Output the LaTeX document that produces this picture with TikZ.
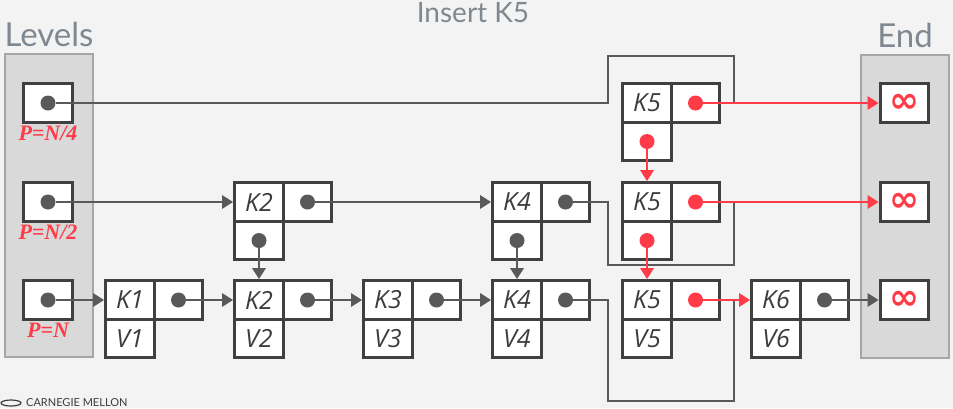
\documentclass[tikz,border=0pt]{standalone}
\usepackage{fontspec}
\usetikzlibrary{arrows.meta, positioning}
\newfontfamily\keyfont{Open Sans}
\newfontfamily\headfont{Lato}
\newfontfamily\pfont{Liberation Serif}
\newfontfamily\symfont{DejaVu Sans}
\definecolor{insred}{RGB}{255,59,72}
\definecolor{linegray}{RGB}{89,89,89}
\definecolor{boxgray}{RGB}{64,64,64}
\definecolor{textgray}{RGB}{60,60,60}
\definecolor{colfill}{RGB}{217,217,217}
\definecolor{colborder}{RGB}{166,166,166}
\definecolor{headgray}{RGB}{127,136,145}
\definecolor{bggray}{RGB}{243,243,243}

\begin{document}
\begin{tikzpicture}[x=1pt, y=-1pt,
    cell/.style={draw=boxgray, line width=3.2pt, fill=white, minimum width=48.5pt,
                 minimum height=38.5pt, inner sep=0pt, text=textgray,
                 font=\keyfont\itshape\fontsize{25}{25}\selectfont},
    endcell/.style={cell, text=insred, font=\symfont\bfseries\fontsize{36}{36}\selectfont},
    dot/.style={circle, fill=linegray, inner sep=0pt, minimum size=15pt},
    reddot/.style={dot, fill=insred},
    link/.style={draw=linegray, line width=2.8pt, -{Triangle[length=11pt,width=13pt]}},
    newlink/.style={link, draw=insred},
    oldlink/.style={draw=linegray, line width=2.8pt},
    column/.style={draw=colborder, fill=colfill, line width=2pt, inner sep=0pt},
    plabel/.style={text=insred, font=\pfont\bfseries\itshape\fontsize{22}{22}\selectfont},
    headline/.style={text=headgray, inner sep=0pt, font=\headfont\fontsize{33}{33}\selectfont}]

  \useasboundingbox (0,0) rectangle (953,408);
  \clip (0,0) rectangle (953,408);
  \fill[bggray] (0,0) rectangle (953,408);

  % Title
  \node (title) [headline, anchor=base, font=\headfont\fontsize{28}{28}\selectfont] at (473,22.7) {Insert K5};

  % Levels and End columns
  \node (levels) [column, minimum width=88pt, minimum height=303pt] at (49,205.5) {};
  \node (ends) [column, minimum width=88pt, minimum height=303pt] at (905,206) {};
  \node (levtxt) [headline, above=6pt of levels] {Levels};
  \node (endtxt) [headline, above=6pt of ends] {End};

  % Level heads
  \node (lv1) [cell] at (48,103) {};
  \node (lv2) [cell] at (48,202) {};
  \node (lv3) [cell] at (48,300) {};
  \node (ld1) [dot] at (lv1) {};
  \node (ld2) [dot] at (lv2) {};
  \node (ld3) [dot] at (lv3) {};
  \node (lp1) [plabel] at (48,133.5) {P=N/4};
  \node (lp2) [plabel] at (48,232.5) {P=N/2};
  \node (lp3) [plabel] at (48,330.5) {P=N};

  % End markers
  \node (inf1) [endcell] at (904.5,103) {∞};
  \node (inf2) [endcell] at (904.5,202) {∞};
  \node (inf3) [endcell] at (904.5,300) {∞};

  % Bottom level: keys and values
  \node (k1) [cell] at (130,300) {K1};
  \node (p1) [cell] at (178.5,300) {};
  \node (v1) [cell] at (130,338.5) {V1};
  \node (k2) [cell] at (259,300) {K2};
  \node (p2) [cell] at (307.5,300) {};
  \node (v2) [cell] at (259,338.5) {V2};
  \node (k3) [cell] at (388,300) {K3};
  \node (p3) [cell] at (436.5,300) {};
  \node (v3) [cell] at (388,338.5) {V3};
  \node (k4) [cell] at (517,300) {K4};
  \node (p4) [cell] at (565.5,300) {};
  \node (v4) [cell] at (517,338.5) {V4};
  \node (k5) [cell] at (647,300) {K5};
  \node (p5) [cell] at (695.5,300) {};
  \node (v5) [cell] at (647,338.5) {V5};
  \node (k6) [cell] at (776,300) {K6};
  \node (p6) [cell] at (824.5,300) {};
  \node (v6) [cell] at (776,338.5) {V6};
  \node (d1) [dot] at (p1) {};
  \node (d2) [dot] at (p2) {};
  \node (d3) [dot] at (p3) {};
  \node (d4) [dot] at (p4) {};
  \node (d5) [reddot] at (p5) {};
  \node (d6) [dot] at (p6) {};

  % Middle level
  \node (mk2) [cell] at (259,202) {K2};
  \node (mp2) [cell] at (307.5,202) {};
  \node (mv2) [cell] at (259,240.5) {};
  \node (mk4) [cell] at (517,202) {K4};
  \node (mp4) [cell] at (565.5,202) {};
  \node (mv4) [cell] at (517,240.5) {};
  \node (mk5) [cell] at (647,202) {K5};
  \node (mp5) [cell] at (695.5,202) {};
  \node (mv5) [cell] at (647,240.5) {};
  \node (md2) [dot] at (mp2) {};
  \node (mdd2) [dot] at (mv2) {};
  \node (md4) [dot] at (mp4) {};
  \node (mdd4) [dot] at (mv4) {};
  \node (md5) [reddot] at (mp5) {};
  \node (mdd5) [reddot] at (mv5) {};

  % Top level
  \node (tk5) [cell] at (647,103) {K5};
  \node (tp5) [cell] at (695.5,103) {};
  \node (tv5) [cell] at (647,141.5) {};
  \node (td5) [reddot] at (tp5) {};
  \node (tdd5) [reddot] at (tv5) {};

  % Old pointers, now running round K5
  \coordinate (g1) at (734,103);
  \coordinate (g2) at (734,202);
  \coordinate (g3) at (734,300);
  \draw[oldlink] (ld1) -- (608,103) |- (734,56) -- (g1);
  \draw[oldlink] (md4) -- (608,202) |- (734,265) -- (g2);
  \draw[oldlink] (d4) -- (608,300) |- (734,401) -- (g3);

  % Links
  \draw[link] (ld2) -- (mk2);
  \draw[link] (md2) -- (mk4);
  \draw[link] (mdd2) -- (k2);
  \draw[link] (mdd4) -- (k4);
  \draw[link] (ld3) -- (k1);
  \draw[link] (d1) -- (k2);
  \draw[link] (d2) -- (k3);
  \draw[link] (d3) -- (k4);
  \draw[link] (d6) -- (inf3);

  % New links for K5
  \draw[newlink] (td5) -- (inf1);
  \draw[newlink] (tdd5) -- (mk5);
  \draw[newlink] (md5) -- (inf2);
  \draw[newlink] (mdd5) -- (k5);
  \draw[newlink] (d5) -- (k6);

  % Footer
  \draw[line width=1.2pt, draw=textgray] (11,403) ellipse (10 and 3);
  \node (cmu) [anchor=base west, inner sep=0pt, text=textgray,
               font=\headfont\fontsize{11}{11}\selectfont] at (26,406.5) {CARNEGIE MELLON};
\end{tikzpicture}
\end{document}
